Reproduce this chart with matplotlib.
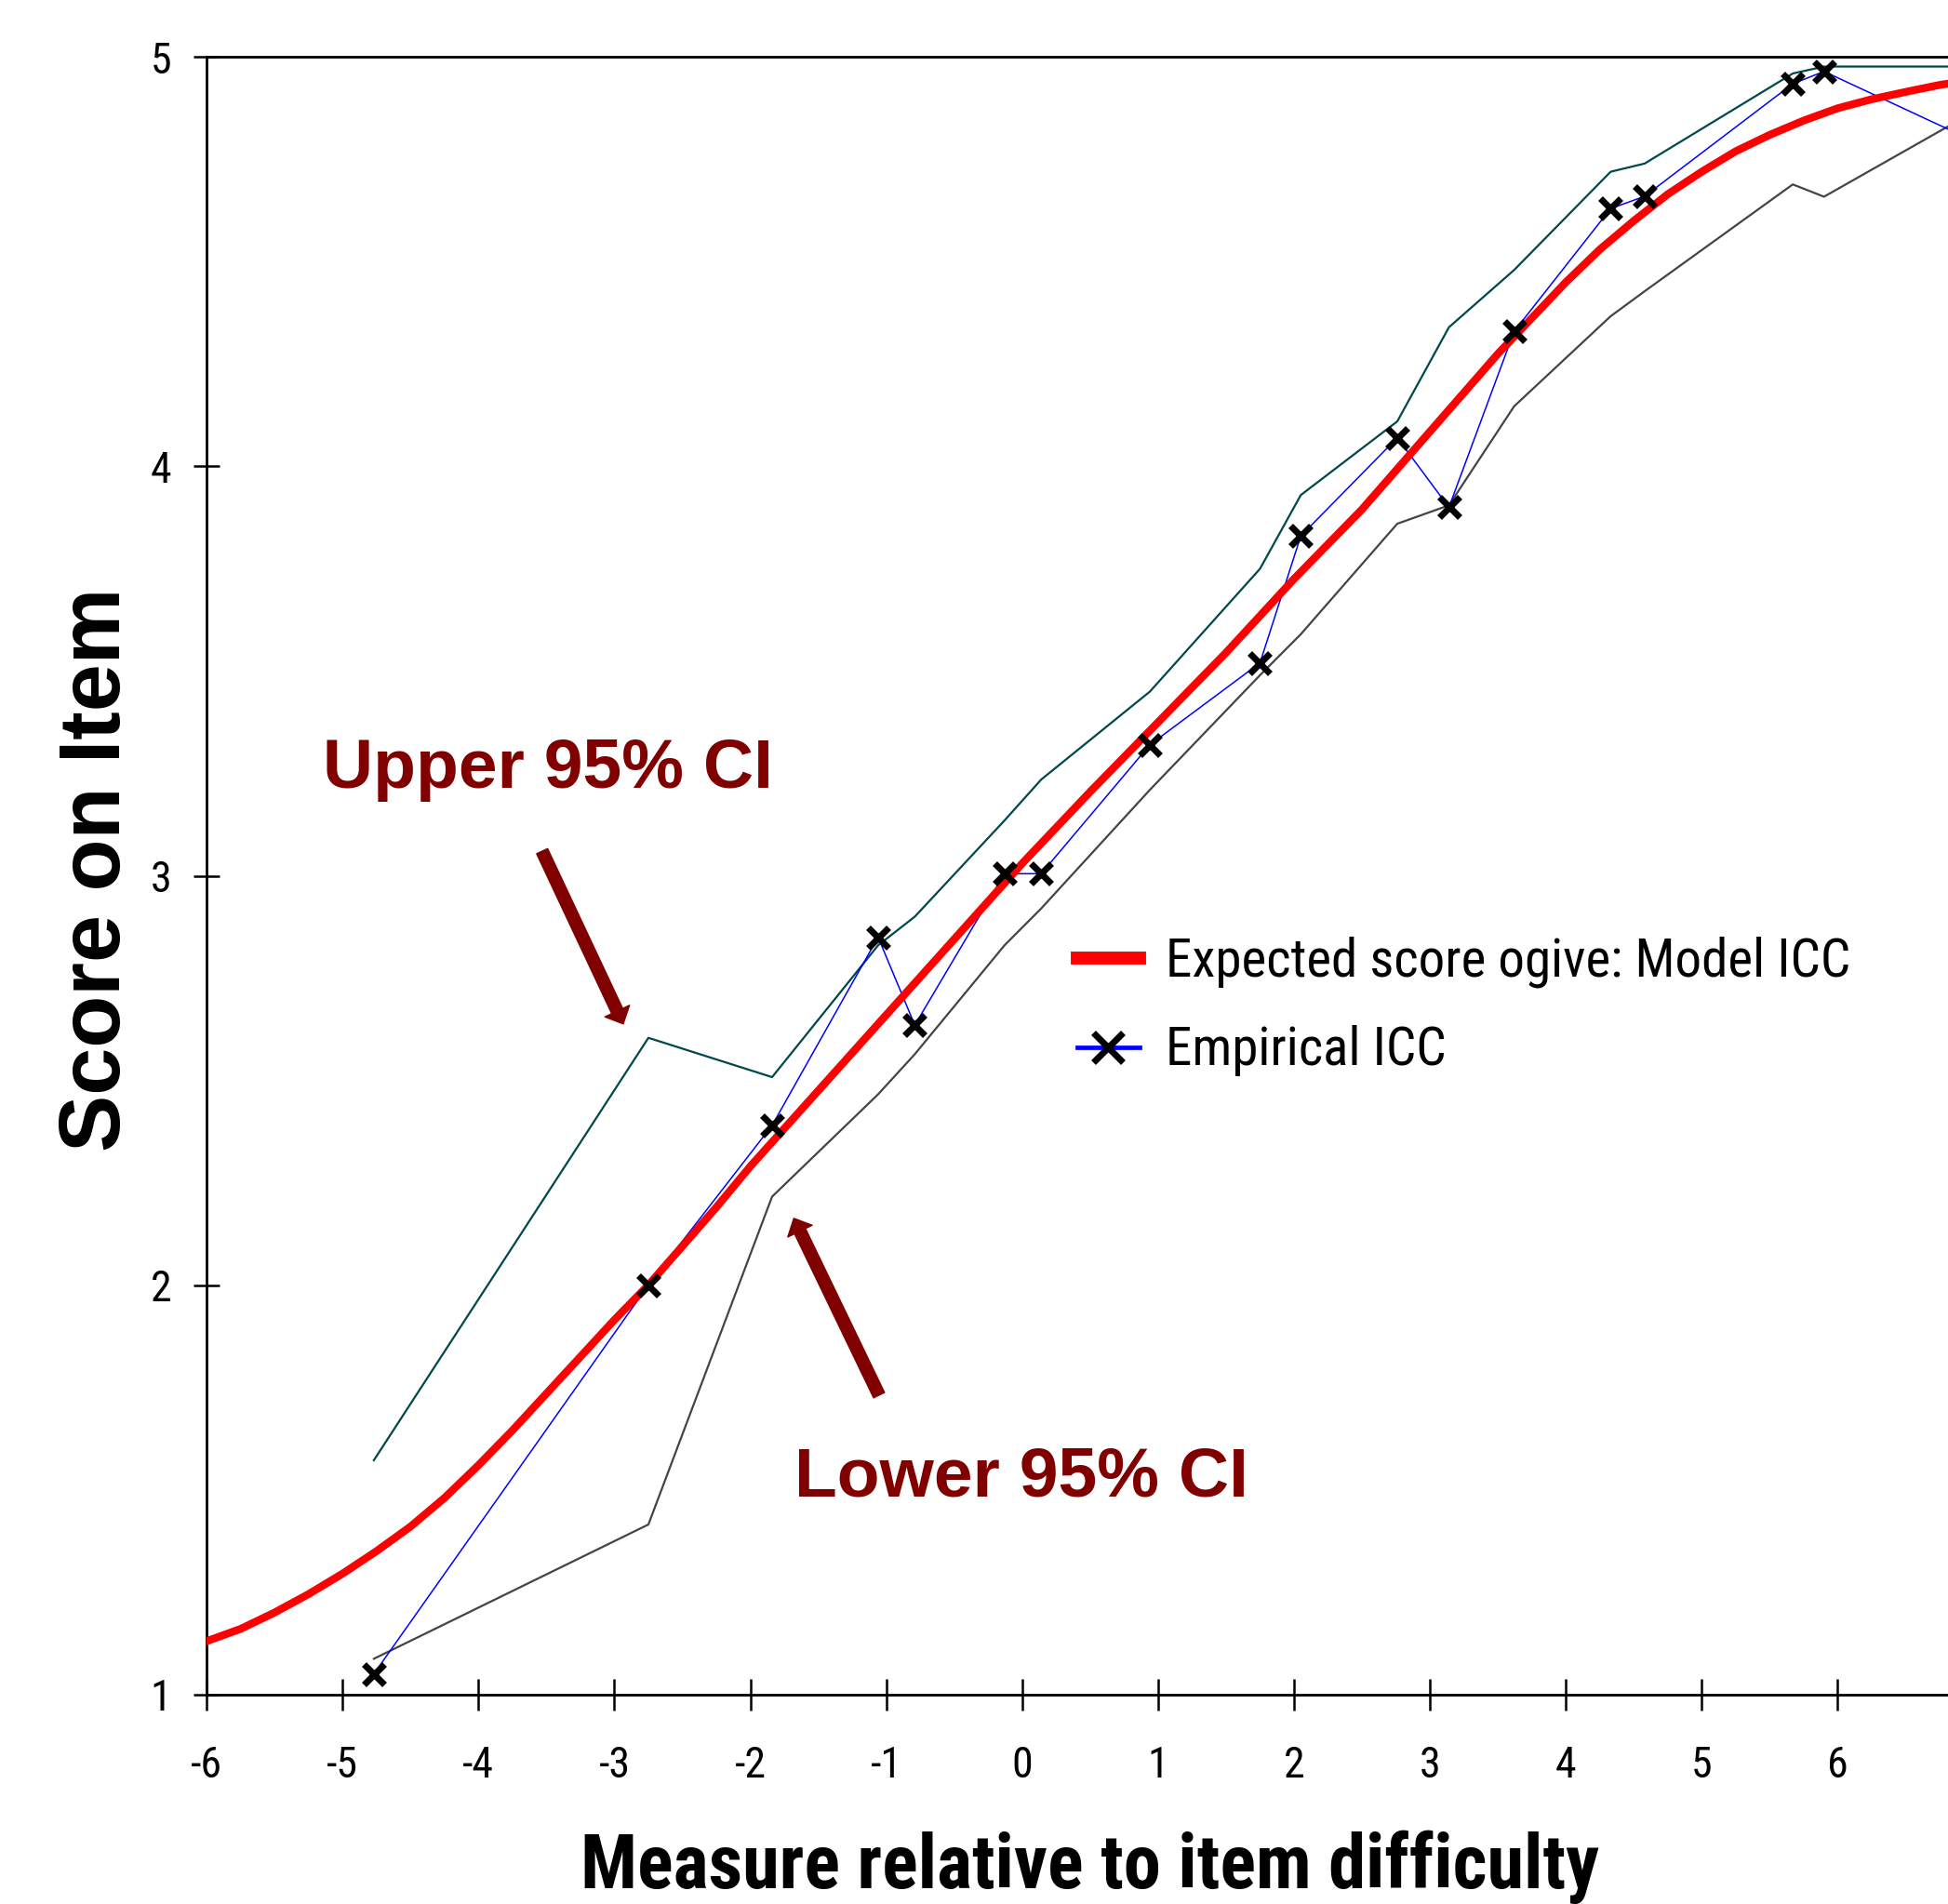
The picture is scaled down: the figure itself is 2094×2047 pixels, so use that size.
import matplotlib.pyplot as plt
from matplotlib.lines import Line2D

# model ICC (expected score ogive)
model_x = [-6.0, -5.75, -5.5, -5.25, -5.0, -4.75, -4.5, -4.25, -4.0, -3.75, -3.5, -3.25,
           -3.0, -2.75, -2.5, -2.25, -2.0, -1.5, -1.0, -0.5, 0.0, 0.5, 1.0, 1.5, 2.0,
           2.5, 3.0, 3.5, 4.0, 4.25, 4.5, 4.75, 5.0, 5.25, 5.5, 5.75, 6.0, 6.25, 6.5, 6.75, 7.0]
model_y = [1.13, 1.16, 1.20, 1.245, 1.295, 1.35, 1.41, 1.48, 1.56, 1.645, 1.735, 1.825,
           1.915, 2.0, 2.095, 2.19, 2.29, 2.475, 2.66, 2.845, 3.03, 3.205, 3.375, 3.545, 3.725,
           3.895, 4.085, 4.275, 4.45, 4.53, 4.60, 4.665, 4.72, 4.77, 4.81, 4.845, 4.875, 4.897, 4.915, 4.932, 4.945]

# empirical ICC and its confidence band
emp_x = [-4.77, -2.75, -1.84, -1.06, -0.79, -0.13, 0.14, 0.94, 1.75, 2.05,
         2.76, 3.14, 3.62, 4.33, 4.58, 5.67, 5.90, 7.0]
emp_y = [1.05, 2.00, 2.39, 2.85, 2.635, 3.005, 3.005, 3.32, 3.52, 3.83,
         4.07, 3.90, 4.33, 4.63, 4.66, 4.935, 4.965, 4.795]
upper_ci = [1.572, 2.604, 2.508, 2.83, 2.90, 3.135, 3.235, 3.45, 3.75, 3.93,
            4.11, 4.34, 4.48, 4.72, 4.74, 4.96, 4.977, 4.977]
lower_ci = [1.087, 1.415, 2.216, 2.466, 2.564, 2.83, 2.92, 3.21, 3.49, 3.59,
            3.86, 3.905, 4.147, 4.367, 4.428, 4.689, 4.659, 4.866]

xticks = [-6, -5, -4, -3, -2, -1, 0, 1, 2, 3, 4, 5, 6]
xtick_labels = ["-6", "-5", "-4", "-3", "-2", "-1", "0", "1", "2", "3", "4", "5", "6"]
yticks = [1, 2, 3, 4, 5]
ytick_labels = ["1", "2", "3", "4", "5"]

narrow = ["Liberation Sans Narrow", "Roboto Condensed", "DejaVu Sans Condensed", "DejaVu Sans"]
wide = ["Liberation Sans", "DejaVu Sans"]
dark_red = "#800000"

fig = plt.figure(figsize=(20.94, 20.47), dpi=100)
ax = fig.add_axes([0.1061, 0.1101, 0.8939, 0.8599])

ax.plot(emp_x, upper_ci, color="#00484a", lw=1.6, zorder=2)
ax.plot(emp_x, lower_ci, color="#444444", lw=1.6, zorder=2)
ax.plot(emp_x, emp_y, color="#0000ff", lw=1.1, zorder=2)
ax.plot(model_x, model_y, color="#ff0000", lw=6, zorder=3)
ax.plot(emp_x, emp_y, ls="none", marker="x", ms=16, mew=5, color="black", zorder=4)

ax.set_xlim(-6, 6.812)
ax.set_ylim(1, 5)

ax.spines["right"].set_visible(False)
for s in ["left", "bottom", "top"]:
    ax.spines[s].set_linewidth(2)
    ax.spines[s].set_color("black")

ax.set_xticks(xticks, xtick_labels, fontsize=33, family=narrow, fontstretch="condensed")
ax.set_yticks(yticks, ytick_labels, fontsize=33, family=narrow, fontstretch="condensed")
ax.tick_params(direction="inout", width=1.8, colors="black")
ax.tick_params(axis="x", length=24, pad=27)
ax.tick_params(axis="y", length=19.5, pad=17.5)

ax.set_xlabel("Measure relative to item difficulty", fontsize=58, fontweight="bold",
              family=narrow, fontstretch="condensed", va="baseline")
ax.xaxis.set_label_coords(0.507, -0.1183)
ax.set_ylabel("Score on Item", fontsize=66, fontweight="bold", family=wide,
              va="center", ha="center")
ax.yaxis.set_label_coords(-0.0625, 0.504)

# annotations
ax.text(-5.148, 3.214, "Upper 95% CI", color=dark_red, fontsize=54, fontweight="bold",
        family=wide, ha="left", va="baseline")
ax.text(-1.676, 1.485, "Lower 95% CI", color=dark_red, fontsize=54, fontweight="bold",
        family=wide, ha="left", va="baseline")
arrow = dict(arrowstyle="simple,head_length=1.1,head_width=2.1,tail_width=0.94",
             mutation_scale=10, color=dark_red, shrinkA=0, shrinkB=0)
ax.annotate("", xy=(-2.935, 2.638), xytext=(-3.532, 3.060), arrowprops=arrow)
ax.annotate("", xy=(-1.68, 2.163), xytext=(-1.053, 1.731), arrowprops=arrow)

handles = [
    Line2D([], [], color="#ff0000", lw=10),
    Line2D([], [], color="#0000ff", lw=3.4, marker="x", mec="black", ms=23, mew=5),
]
labels = ["Expected score ogive: Model ICC", "Empirical ICC"]
ax.legend(handles, labels, loc="center left", bbox_to_anchor=(1158 / 2094, 1 - 1082 / 2047),
          bbox_transform=fig.transFigure, frameon=False, borderpad=0, borderaxespad=0,
          handlelength=1.17, handletextpad=0.49, labelspacing=0.71,
          prop={"family": narrow, "size": 41, "stretch": "condensed"})

fig.savefig("out.png", dpi=100, facecolor="white")
